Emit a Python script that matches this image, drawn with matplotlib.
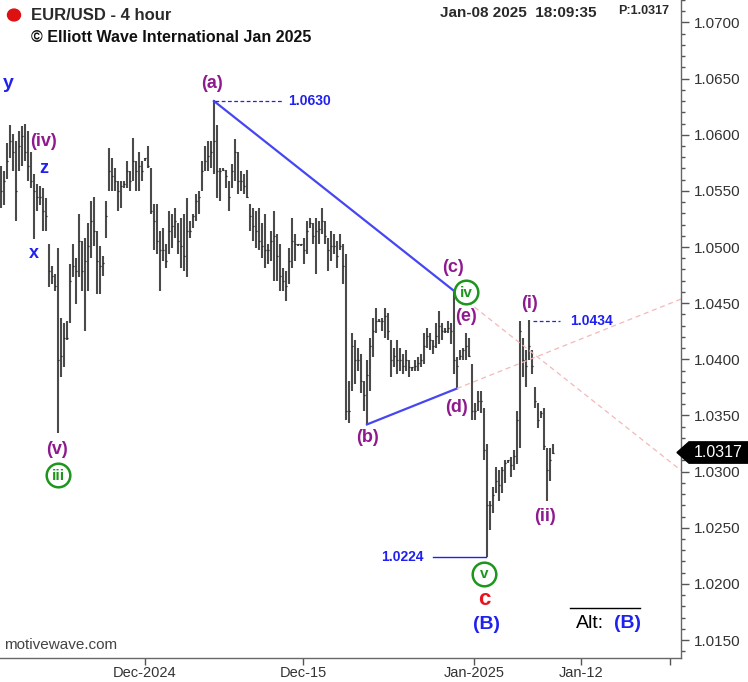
import numpy as np
import matplotlib
matplotlib.use('Agg')
import matplotlib.pyplot as plt
from matplotlib.patches import Polygon
from matplotlib.transforms import blended_transform_factory

plt.rcParams['font.family'] = ['Liberation Sans', 'DejaVu Sans']

# 4-hour EUR/USD bars (high, low, close)
highs = [1.0572, 1.0568, 1.0593, 1.0609, 1.0601, 1.0594, 1.0603, 1.0608, 1.0610, 1.0603,
         1.0585, 1.0565, 1.0556, 1.0554, 1.0553, 1.0544, 1.0503, 1.0483, 1.0476, 1.0499,
         1.0437, 1.0432, 1.0434, 1.0485, 1.0503, 1.0490, 1.0529, 1.0505, 1.0508, 1.0521,
         1.0541, 1.0545, 1.0514, 1.0501, 1.0492, 1.0541, 1.0588, 1.0579, 1.0570, 1.0559,
         1.0559, 1.0559, 1.0577, 1.0568, 1.0597, 1.0577, 1.0585, 1.0577, 1.0579, 1.0590,
         1.0570, 1.0538, 1.0538, 1.0514, 1.0517, 1.0503, 1.0532, 1.0529, 1.0535, 1.0521,
         1.0526, 1.0529, 1.0544, 1.0523, 1.0529, 1.0547, 1.0550, 1.0577, 1.0590, 1.0594,
         1.0594, 1.0631, 1.0609, 1.0570, 1.0570, 1.0569, 1.0559, 1.0574, 1.0596, 1.0585,
         1.0568, 1.0565, 1.0569, 1.0538, 1.0535, 1.0532, 1.0535, 1.0521, 1.0529, 1.0503,
         1.0514, 1.0532, 1.0512, 1.0503, 1.0481, 1.0479, 1.0499, 1.0526, 1.0512, 1.0503,
         1.0503, 1.0508, 1.0523, 1.0526, 1.0521, 1.0526, 1.0523, 1.0535, 1.0523, 1.0508,
         1.0514, 1.0512, 1.0505, 1.0512, 1.0503, 1.0494, 1.0381, 1.0423, 1.0417, 1.0410,
         1.0405, 1.0381, 1.0399, 1.0419, 1.0437, 1.0446, 1.0436, 1.0437, 1.0446, 1.0441,
         1.0417, 1.0410, 1.0417, 1.0410, 1.0405, 1.0408, 1.0399, 1.0393, 1.0399, 1.0402,
         1.0405, 1.0423, 1.0428, 1.0423, 1.0417, 1.0432, 1.0443, 1.0432, 1.0428, 1.0434,
         1.0432, 1.0461, 1.0402, 1.0408, 1.0410, 1.0423, 1.0419, 1.0396, 1.0361, 1.0372,
         1.0372, 1.0357, 1.0325, 1.0274, 1.0286, 1.0304, 1.0301, 1.0304, 1.0310, 1.0310,
         1.0313, 1.0319, 1.0354, 1.0434, 1.0419, 1.0408, 1.0435, 1.0408, 1.0375, 1.0361,
         1.0354, 1.0357, 1.0321, 1.0321, 1.0325]
lows = [1.0535, 1.0537, 1.0561, 1.0579, 1.0568, 1.0523, 1.0568, 1.0572, 1.0577, 1.0559,
        1.0553, 1.0507, 1.0532, 1.0537, 1.0514, 1.0514, 1.0464, 1.0467, 1.0461, 1.0334,
        1.0384, 1.0393, 1.0417, 1.0432, 1.0473, 1.0449, 1.0473, 1.0461, 1.0425, 1.0461,
        1.0490, 1.0501, 1.0458, 1.0458, 1.0474, 1.0508, 1.0550, 1.0550, 1.0550, 1.0532,
        1.0535, 1.0553, 1.0553, 1.0550, 1.0559, 1.0550, 1.0550, 1.0559, 1.0577, 1.0570,
        1.0529, 1.0497, 1.0494, 1.0461, 1.0488, 1.0481, 1.0494, 1.0499, 1.0508, 1.0494,
        1.0481, 1.0479, 1.0473, 1.0508, 1.0517, 1.0523, 1.0529, 1.0550, 1.0568, 1.0568,
        1.0570, 1.0565, 1.0544, 1.0541, 1.0568, 1.0553, 1.0532, 1.0553, 1.0559, 1.0547,
        1.0550, 1.0547, 1.0544, 1.0514, 1.0505, 1.0499, 1.0497, 1.0490, 1.0481, 1.0485,
        1.0488, 1.0470, 1.0470, 1.0461, 1.0461, 1.0452, 1.0467, 1.0481, 1.0488, 1.0501,
        1.0501, 1.0485, 1.0494, 1.0517, 1.0503, 1.0476, 1.0503, 1.0512, 1.0503, 1.0479,
        1.0488, 1.0494, 1.0481, 1.0497, 1.0467, 1.0346, 1.0343, 1.0372, 1.0378, 1.0390,
        1.0370, 1.0354, 1.0342, 1.0372, 1.0402, 1.0423, 1.0433, 1.0425, 1.0419, 1.0417,
        1.0384, 1.0393, 1.0387, 1.0390, 1.0387, 1.0390, 1.0384, 1.0390, 1.0390, 1.0390,
        1.0393, 1.0396, 1.0410, 1.0408, 1.0405, 1.0410, 1.0414, 1.0417, 1.0423, 1.0423,
        1.0414, 1.0387, 1.0374, 1.0399, 1.0399, 1.0399, 1.0402, 1.0346, 1.0346, 1.0354,
        1.0352, 1.0310, 1.0224, 1.0248, 1.0263, 1.0281, 1.0274, 1.0281, 1.0290, 1.0308,
        1.0295, 1.0301, 1.0307, 1.0321, 1.0384, 1.0375, 1.0399, 1.0387, 1.0357, 1.0339,
        1.0348, 1.0319, 1.0274, 1.0292, 1.0316]
closes = [1.0550, 1.0559, 1.0577, 1.0594, 1.0585, 1.0550, 1.0590, 1.0599, 1.0585, 1.0572,
          1.0559, 1.0550, 1.0545, 1.0545, 1.0532, 1.0528, 1.0479, 1.0474, 1.0465, 1.0399,
          1.0403, 1.0419, 1.0419, 1.0470, 1.0483, 1.0479, 1.0505, 1.0479, 1.0488, 1.0501,
          1.0523, 1.0514, 1.0488, 1.0483, 1.0486, 1.0528, 1.0568, 1.0563, 1.0559, 1.0550,
          1.0554, 1.0556, 1.0568, 1.0559, 1.0577, 1.0568, 1.0572, 1.0568, 1.0579, 1.0572,
          1.0532, 1.0523, 1.0505, 1.0497, 1.0497, 1.0488, 1.0514, 1.0519, 1.0523, 1.0505,
          1.0501, 1.0492, 1.0514, 1.0514, 1.0528, 1.0541, 1.0545, 1.0568, 1.0577, 1.0581,
          1.0585, 1.0594, 1.0568, 1.0568, 1.0569, 1.0563, 1.0545, 1.0568, 1.0585, 1.0559,
          1.0559, 1.0554, 1.0545, 1.0528, 1.0519, 1.0514, 1.0505, 1.0501, 1.0497, 1.0497,
          1.0505, 1.0510, 1.0492, 1.0474, 1.0470, 1.0465, 1.0488, 1.0505, 1.0503, 1.0503,
          1.0503, 1.0497, 1.0514, 1.0521, 1.0510, 1.0514, 1.0516, 1.0523, 1.0510, 1.0497,
          1.0501, 1.0501, 1.0492, 1.0501, 1.0483, 1.0354, 1.0354, 1.0412, 1.0399, 1.0399,
          1.0381, 1.0368, 1.0386, 1.0412, 1.0425, 1.0434, 1.0434, 1.0434, 1.0439, 1.0425,
          1.0399, 1.0403, 1.0399, 1.0399, 1.0394, 1.0399, 1.0393, 1.0393, 1.0394, 1.0397,
          1.0399, 1.0412, 1.0421, 1.0417, 1.0412, 1.0421, 1.0430, 1.0425, 1.0425, 1.0428,
          1.0425, 1.0399, 1.0394, 1.0403, 1.0408, 1.0412, 1.0403, 1.0354, 1.0354, 1.0363,
          1.0363, 1.0319, 1.0270, 1.0270, 1.0279, 1.0292, 1.0288, 1.0301, 1.0308, 1.0310,
          1.0306, 1.0314, 1.0346, 1.0425, 1.0399, 1.0394, 1.0412, 1.0394, 1.0363, 1.0346,
          1.0352, 1.0323, 1.0301, 1.0310, 1.0317]

last_price = 1.0317
price_ticks = [1.0150, 1.0200, 1.0250, 1.0300, 1.0350, 1.0400, 1.0450, 1.0500,
               1.0550, 1.0600, 1.0650, 1.0700]
date_tick_pos = [48, 100.7, 157.7, 193.3, 223]
date_tick_labels = ['Dec-2024', 'Dec-15', 'Jan-2025', 'Jan-12', '']

# wave pivots: bar index and price
a_pt = (71, 1.0630)
b_pt = (122, 1.0342)
c_pt = (151, 1.0461)
d_pt = (152, 1.0374)
low_pt = (162, 1.0224)
i_pt = (176, 1.0434)

PURPLE = '#8e1a8e'
BLUE = '#2020f0'
LINEBLUE = '#4646f2'
GREEN = '#1e961e'

x = np.arange(len(highs))

fig = plt.figure(figsize=(7.48, 6.82), dpi=100)
ax = fig.add_axes([0, 24 / 682, 681 / 748, 1 - 24 / 682])
ax.set_xlim(-0.33, 226.7)
ax.set_ylim(1.01340, 1.07187)

ax.vlines(x, lows, highs, colors='#4a4a4a', lw=1.5)
ax.hlines(closes, x, x + 0.5, colors='#111111', lw=0.9)

# triangle lines and their extensions
xr = 226.7
for p0, p1 in [(a_pt, c_pt), (b_pt, d_pt)]:
    ax.plot([p0[0], p1[0]], [p0[1], p1[1]], color=LINEBLUE, lw=1.6)
    slope = (p1[1] - p0[1]) / (p1[0] - p0[0])
    ax.plot([p1[0], xr], [p1[1], p1[1] + slope * (xr - p1[0])],
            color='#f4b8b8', lw=0.9, ls=(0, (4, 3)))

# price level markers
ax.plot([a_pt[0] + 0.5, 93.7], [a_pt[1], a_pt[1]], color=BLUE, lw=0.9, ls=(0, (3, 2)))
ax.text(103, a_pt[1], '1.0630', color=BLUE, fontsize=10, fontweight='bold',
        ha='center', va='center')
ax.plot([i_pt[0] + 1.2, 186.3], [i_pt[1], i_pt[1]], color=BLUE, lw=0.9, ls=(0, (3, 2)))
ax.text(197, i_pt[1], '1.0434', color=BLUE, fontsize=10, fontweight='bold',
        ha='center', va='center')
ax.plot([144, low_pt[0] - 0.3], [low_pt[1], low_pt[1]], color=BLUE, lw=1.0)
ax.text(133.7, low_pt[1], '1.0224', color=BLUE, fontsize=10, fontweight='bold',
        ha='center', va='center')

# wave labels
labels = [
    (2.3, 1.0646, 'y', BLUE, 14),
    (14.3, 1.0594, '(iv)', PURPLE, 13),
    (14.3, 1.0570, 'z', BLUE, 13),
    (11.0, 1.0494, 'x', BLUE, 13),
    (18.7, 1.0320, '(v)', PURPLE, 13),
    (70.3, 1.0646, '(a)', PURPLE, 13),
    (150.7, 1.0482, '(c)', PURPLE, 13),
    (155.0, 1.0438, '(e)', PURPLE, 13),
    (152.0, 1.0357, '(d)', PURPLE, 13),
    (122.3, 1.0330, '(b)', PURPLE, 13),
    (176.3, 1.0450, '(i)', PURPLE, 13),
    (181.3, 1.0260, '(ii)', PURPLE, 13),
    (161.0, 1.0186, 'c', '#e8141e', 16),
    (161.7, 1.0164, '(B)', BLUE, 14),
]
for lx, ly, s, col, fs in labels:
    ax.text(lx, ly, s, color=col, fontsize=fs, fontweight='bold', ha='center', va='center')

for cx, cy, s in [(19, 1.0297, 'iii'), (155, 1.0460, 'iv'), (161, 1.0209, 'v')]:
    ax.plot(cx, cy, 'o', ms=17, mfc='white', mec=GREEN, mew=1.8, zorder=4)
    ax.text(cx, cy - 0.00005, s, color=GREEN, fontsize=11, fontweight='bold',
            ha='center', va='center', zorder=5)

# alternate count
ax.text(196.5, 1.0165, 'Alt:', color='black', fontsize=14, ha='center', va='center')
ax.text(208.7, 1.0165, '(B)', color=BLUE, fontsize=14, fontweight='bold',
        ha='center', va='center')
ax.plot([189.7, 213], [1.01785, 1.01785], color='black', lw=1.0)

# axes styling
ax.yaxis.tick_right()
ax.set_yticks(price_ticks)
ax.set_yticklabels(['%.4f' % p for p in price_ticks])
ax.set_yticks(np.arange(1.014, 1.072, 0.001), minor=True)
ax.set_xticks(date_tick_pos)
ax.set_xticklabels(date_tick_labels)
ax.tick_params(axis='y', which='major', length=6, width=1, color='#555555',
               labelsize=11, labelcolor='#333333', pad=3)
ax.tick_params(axis='y', which='minor', length=3, width=1, color='#555555')
ax.tick_params(axis='x', length=5, width=1, color='#555555', labelsize=10.5,
               labelcolor='#333333', pad=0.5)
for side in ['top', 'left']:
    ax.spines[side].set_visible(False)
for side in ['right', 'bottom']:
    ax.spines[side].set_color('#666666')
    ax.spines[side].set_linewidth(1.0)

# last price tag
tr = blended_transform_factory(fig.transFigure, ax.transData)
h = 0.00095
tag = Polygon([(677 / 748, last_price), (689 / 748, last_price + h), (1.0, last_price + h),
               (1.0, last_price - h), (689 / 748, last_price - h)],
              closed=True, fc='black', ec='black', transform=tr, clip_on=False, zorder=6)
fig.add_artist(tag)
fig.text(718 / 748, last_price, '%.4f' % last_price, color='white', fontsize=11.5,
         ha='center', va='center', transform=tr, zorder=7)

# header and footer
fig.add_artist(plt.Circle((14 / 748, 1 - 15 / 682), 6.5 / 748, color='#dd1111',
                          transform=fig.transFigure))
fig.text(31 / 748, 1 - 15 / 682, 'EUR/USD - 4 hour', fontsize=12, fontweight='bold',
         color='#2a2a2a', va='center')
fig.text(31 / 748, 1 - 37 / 682, '\u00a9 Elliott Wave International Jan 2025', fontsize=11.5,
         fontweight='bold', color='#111111', va='center')
fig.text(440 / 748, 1 - 13 / 682, 'Jan-08 2025  18:09:35', fontsize=11, fontweight='bold',
         color='#2a2a2a', va='center')
fig.text(618 / 748, 1 - 11 / 682, 'P:1.0317', fontsize=9, fontweight='bold',
         color='#2a2a2a', va='center')
fig.text(4 / 748, 1 - 645 / 682, 'motivewave.com', fontsize=11, color='#444444', va='center')

fig.savefig('out.png', dpi=100, facecolor='white')
